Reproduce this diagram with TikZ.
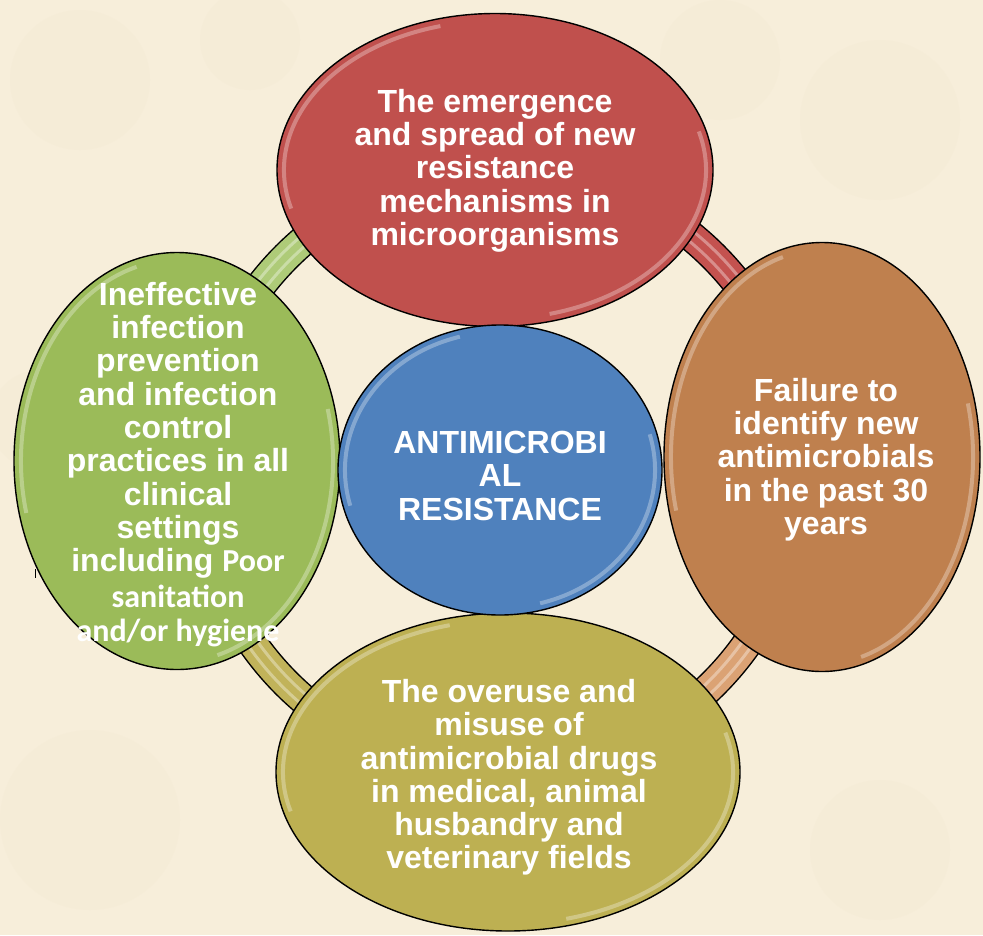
\documentclass[tikz,border=0pt]{standalone}
\usepackage{fontspec}
\setmainfont{Liberation Sans}
\newfontfamily\calib{Carlito}
\usetikzlibrary{shapes.geometric}
\definecolor{bg}{HTML}{F7EEDA}
\definecolor{bgdark}{HTML}{EFE3C6}
\definecolor{cred}{HTML}{C0504D}
\definecolor{cblue}{HTML}{4F81BD}
\definecolor{cgreen}{HTML}{9BBB59}
\definecolor{corange}{HTML}{BF804E}
\definecolor{colive}{HTML}{BDB052}
\definecolor{ringgreen}{HTML}{AECB78}
\definecolor{ringred}{HTML}{C4524F}
\definecolor{ringorange}{HTML}{DBA274}
\definecolor{ringolive}{HTML}{C1B35A}
\newcommand\glossrim[3]{%
  \draw[white, opacity=.3, line width=4pt] (#1.center) ++(165:#2-7 and #3-7)
    arc[start angle=165, end angle=255, x radius=#2-7, y radius=#3-7];
  \draw[white, opacity=.3, line width=4pt] (#1.center) ++(-15:#2-7 and #3-7)
    arc[start angle=-15, end angle=75, x radius=#2-7, y radius=#3-7];
}
\begin{document}
\begin{tikzpicture}[x=1pt,y=-1pt,
  bubble/.style={ellipse, draw=black, line width=1.4pt, inner sep=0pt},
  lbl/.style={text=white, font=\bfseries\fontsize{32}{33.3}\selectfont,
              align=center, inner sep=0pt, anchor=north},
  ringstripe/.style={white, opacity=.35, line width=3pt}]
\fill[bg] (0,0) rectangle (983,935);
\useasboundingbox (0,0) rectangle (983,935);
% faint mottling of the parchment background
\foreach \x/\y/\r in {80/80/70, 880/120/80, 90/820/90, 880/850/70, 250/40/50, 720/60/60, 40/420/50}
  \fill[bgdark, opacity=.15] (\x,\y) circle[radius=\r];
% ring connecting the ellipses
\coordinate (ctr) at (500,470);
\draw[black, line width=31pt] (ctr) circle[radius=302];
\foreach \a/\c in {180/ringgreen, 270/ringred, 0/ringorange, 90/ringolive}{
  \draw[\c, line width=28pt] (ctr) ++(\a:302) arc[start angle=\a, end angle=\a+90, radius=302];
  \draw[ringstripe] (ctr) ++(\a:297) arc[start angle=\a, end angle=\a+90, radius=297];
  \draw[ringstripe] (ctr) ++(\a:307) arc[start angle=\a, end angle=\a+90, radius=307];
}
% stray mark
\draw[black, line width=0.8pt] (35,569) -- (35,578);
% ellipses
\node[bubble, fill=cred, minimum width=436pt, minimum height=313pt] (emerg) at (495,170) {};
\node[bubble, fill=corange, minimum width=316pt, minimum height=429pt] (fail) at (822,457) {};
\node[bubble, fill=colive, minimum width=464pt, minimum height=318pt] (overuse) at (508,772) {};
\node[bubble, fill=cgreen, minimum width=326pt, minimum height=417pt] (ineff) at (177,461) {};
\node[bubble, fill=cblue, minimum width=324pt, minimum height=290pt] (amr) at (500,470) {};
\glossrim{emerg}{218}{156}
\glossrim{fail}{158}{214}
\glossrim{overuse}{232}{159}
\glossrim{ineff}{163}{208}
\glossrim{amr}{162}{145}
% texts
\node[lbl] (emergtxt) at (495,89) {The emergence\\and spread of new\\resistance\\mechanisms in\\microorganisms};
\node[lbl] (failtxt) at (826,378) {Failure to\\identify new\\antimicrobials\\in the past 30\\years};
\node[lbl] (amrtxt) at (500,431) {ANTIMICROBI\\AL\\RESISTANCE};
\node[lbl] (overtxt) at (509,679) {The overuse and\\misuse of\\antimicrobial drugs\\in medical, animal\\husbandry and\\veterinary fields};
\node[lbl] (infftxt) at (178,282) {Ineffective\\infection\\prevention\\and infection\\control\\practices in all\\clinical\\settings\\including {\calib Poor}\\[2pt]{\calib sanitation}\\[1pt]{\calib and/or hygiene}};
\end{tikzpicture}
\end{document}
